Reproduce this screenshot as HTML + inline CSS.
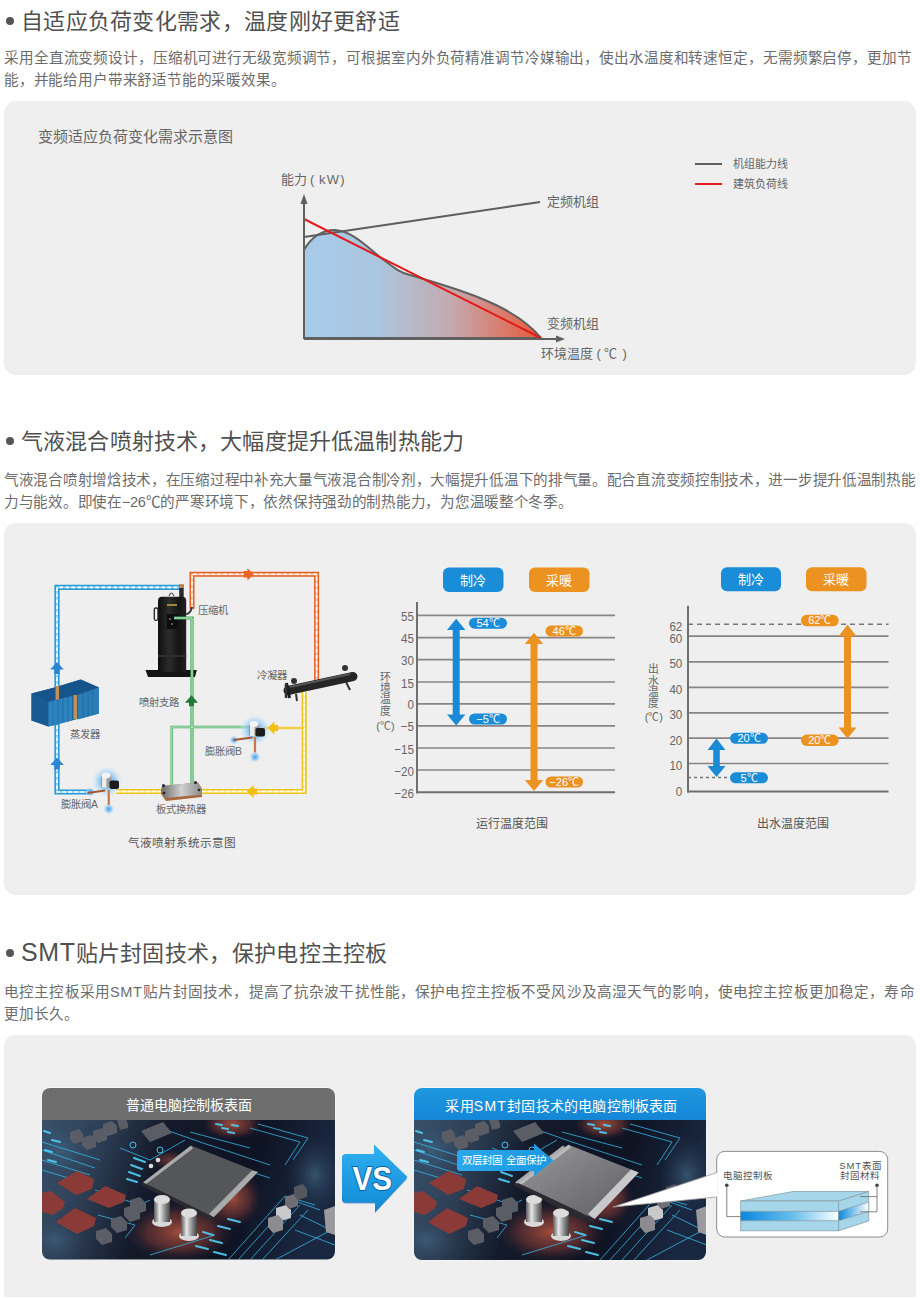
<!DOCTYPE html>
<html lang="zh-CN">
<head>
<meta charset="utf-8">
<style>
html,body{margin:0;padding:0;background:#fff;}
body{width:920px;height:1299px;position:relative;overflow:hidden;font-family:"Liberation Sans",sans-serif;color:#555;}
.abs{position:absolute;}
.h{position:absolute;left:21px;font-size:22px;line-height:30px;color:#505050;white-space:nowrap;letter-spacing:0.3px;}
.h .dot{position:absolute;left:-15.5px;top:10px;width:8px;height:8px;border-radius:50%;background:#555;}
.p{position:absolute;left:4px;width:912px;font-size:14.6px;line-height:22px;color:#6c6c6c;}
.p .l{display:block;white-space:nowrap;}
.p .l2{display:block;white-space:nowrap;}
.box{position:absolute;left:4px;width:912px;background:#efefef;border-radius:12px;}
.t{position:absolute;white-space:nowrap;color:#666;}
svg{position:absolute;left:0;top:0;}
</style>
</head>
<body>

<!-- Section 1 -->
<div class="h" style="top:7px"><span class="dot"></span>自适应负荷变化需求，温度刚好更舒适</div>
<div class="p" style="top:47px"><span class="l" style="letter-spacing:-0.12px">采用全直流变频设计，压缩机可进行无级宽频调节，可根据室内外负荷精准调节冷媒输出，使出水温度和转速恒定，无需频繁启停，更加节</span><span class="l2" style="letter-spacing:-0.18px">能，并能给用户带来舒适节能的采暖效果。</span></div>

<div class="box" style="top:101px;height:274px"></div>
<div class="t" style="left:38px;top:127px;font-size:15px;line-height:20px">变频适应负荷变化需求示意图</div>

<svg width="920" height="400" viewBox="0 0 920 400">
  <defs>
    <linearGradient id="g1" x1="304" y1="0" x2="541" y2="0" gradientUnits="userSpaceOnUse">
      <stop offset="0" stop-color="#a8cbea"/>
      <stop offset="0.3" stop-color="#aac6e0"/>
      <stop offset="0.62" stop-color="#c4aab0"/>
      <stop offset="1" stop-color="#e85a3a"/>
    </linearGradient>
  </defs>
  <path d="M304,250 C312,236 322,230 335,230 C352,231 366,246 380,257 C392,266 398,272 410,275 C430,281 455,288 480,298 C505,308 528,322 541,338 L304,338 Z" fill="url(#g1)" stroke="#606060" stroke-width="2"/>
  <line x1="304" y1="237" x2="540" y2="202" stroke="#5e5e5e" stroke-width="2"/>
  <line x1="304" y1="219" x2="541" y2="338" stroke="#e21b1b" stroke-width="2"/>
  <line x1="304" y1="339" x2="558" y2="339" stroke="#606060" stroke-width="2"/>
  <line x1="304" y1="339" x2="304" y2="200" stroke="#606060" stroke-width="2"/>
  <path d="M300.5,204 L304,194 L307.5,204 Z" fill="#606060"/>
  <path d="M556,335.5 L565,339 L556,342.5 Z" fill="#606060"/>
  <line x1="695" y1="164" x2="722" y2="164" stroke="#5e5e5e" stroke-width="2"/>
  <line x1="695" y1="184" x2="722" y2="184" stroke="#e21b1b" stroke-width="2"/>
</svg>
<div class="t" style="left:281px;top:171px;font-size:13px;line-height:18px">能力</div>
<div class="t" style="left:310px;top:171px;font-size:13px;line-height:18px">(</div>
<div class="t" style="left:319px;top:171px;font-size:13px;line-height:18px;letter-spacing:1.3px">kW)</div>
<div class="t" style="left:547px;top:193px;font-size:13px;line-height:18px">定频机组</div>
<div class="t" style="left:547px;top:315px;font-size:13px;line-height:18px">变频机组</div>
<div class="t" style="left:540.5px;top:345px;font-size:13px;line-height:18px">环境温度</div>
<div class="t" style="left:596.5px;top:345px;font-size:13px;line-height:18px">(</div>
<div class="t" style="left:604px;top:345px;font-size:13px;line-height:18px">℃</div>
<div class="t" style="left:622.5px;top:345px;font-size:13px;line-height:18px">)</div>
<div class="t" style="left:733px;top:155px;font-size:11px;line-height:18px">机组能力线</div>
<div class="t" style="left:733px;top:175px;font-size:11px;line-height:18px">建筑负荷线</div>

<!-- Section 2 -->
<div class="h" style="top:427px;letter-spacing:0.15px"><span class="dot"></span>气液混合喷射技术，大幅度提升低温制热能力</div>
<div class="p" style="top:469px"><span class="l" style="letter-spacing:-0.3px">气液混合喷射增焓技术，在压缩过程中补充大量气液混合制冷剂，大幅提升低温下的排气量。配合直流变频控制技术，进一步提升低温制热能</span><span class="l2" style="letter-spacing:-0.28px">力与能效。即使在−26℃的严寒环境下，依然保持强劲的制热能力，为您温暖整个冬季。</span></div>
<div class="box" style="top:522.5px;height:372px"></div>

<svg width="920" height="1299" viewBox="0 0 920 1299" style="position:absolute;left:0;top:0">
<defs>
  <radialGradient id="glow"><stop offset="0" stop-color="#3f9ff0" stop-opacity="1"/><stop offset="0.45" stop-color="#7fc0f2" stop-opacity="0.8"/><stop offset="0.75" stop-color="#b5dcf7" stop-opacity="0.45"/><stop offset="1" stop-color="#dceefa" stop-opacity="0"/></radialGradient>
  <linearGradient id="evap" x1="0" y1="0" x2="1" y2="1"><stop offset="0" stop-color="#3b8fc4"/><stop offset="1" stop-color="#1d5f94"/></linearGradient>
  <linearGradient id="hx" x1="0" y1="0" x2="1" y2="0"><stop offset="0" stop-color="#6a6a6a"/><stop offset="0.5" stop-color="#d0d0d0"/><stop offset="1" stop-color="#8a8a8a"/></linearGradient>
  <linearGradient id="comp" x1="0" y1="0" x2="1" y2="0"><stop offset="0" stop-color="#0e0e0e"/><stop offset="0.4" stop-color="#2c2c2c"/><stop offset="0.75" stop-color="#141414"/><stop offset="1" stop-color="#222"/></linearGradient>
</defs>
<style>
 .bt{font-size:13px;fill:#fff;text-anchor:middle;}
 .gl{stroke:#8a8585;stroke-width:1.7;}
 .ax{stroke:#726e6e;stroke-width:2;}
 .yl{font-size:13.2px;fill:#666;text-anchor:end;}
 .vt{font-size:10.8px;fill:#666;text-anchor:middle;}
 .tg{font-size:11px;fill:#fff;text-anchor:middle;}
 .cap{font-size:12px;fill:#555;}
 .lb{font-size:10.4px;fill:#666;}
</style>
<!-- chart 1 -->
<rect x="443" y="567.5" width="60.5" height="24.5" rx="6" fill="#1a8dd8"/>
<rect x="529" y="567.5" width="60.5" height="24.5" rx="6" fill="#ec9221"/>
<text x="473.2" y="584.6" class="bt">制冷</text>
<text x="559.2" y="584.6" class="bt">采暖</text>
<line x1="417" y1="615.4" x2="615" y2="615.4" class="gl"/>
<line x1="417" y1="637.7" x2="615" y2="637.7" class="gl"/>
<line x1="417" y1="659.7" x2="615" y2="659.7" class="gl"/>
<line x1="417" y1="682" x2="615" y2="682" class="gl"/>
<line x1="417" y1="703.8" x2="615" y2="703.8" class="gl"/>
<line x1="417" y1="725.8" x2="615" y2="725.8" class="gl"/>
<line x1="417" y1="748" x2="615" y2="748" class="gl"/>
<line x1="417" y1="770" x2="615" y2="770" class="gl"/>
<text transform="translate(414.0,621.0) scale(0.88,1)" class="yl">55</text>
<text transform="translate(414.0,643.3) scale(0.88,1)" class="yl">45</text>
<text transform="translate(414.0,665.3) scale(0.88,1)" class="yl">30</text>
<text transform="translate(414.0,687.6) scale(0.88,1)" class="yl">15</text>
<text transform="translate(414.0,709.4) scale(0.88,1)" class="yl">0</text>
<text transform="translate(414.0,731.4) scale(0.88,1)" class="yl">−5</text>
<text transform="translate(414.0,753.6) scale(0.88,1)" class="yl">−15</text>
<text transform="translate(414.0,775.6) scale(0.88,1)" class="yl">−20</text>
<text transform="translate(414.0,797.9) scale(0.88,1)" class="yl">−26</text>
<line x1="417" y1="602" x2="417" y2="793.3" class="ax"/>
<line x1="416" y1="792.3" x2="615" y2="792.3" class="ax"/>
<text x="385.4" y="680.8" class="vt">环</text>
<text x="385.4" y="692.3" class="vt">境</text>
<text x="385.4" y="703.3" class="vt">温</text>
<text x="385.4" y="715.1" class="vt">度</text>
<text x="385.4" y="730.3" class="vt">(℃)</text>
<path d="M456.2,618.8 L465.4,630 L459.7,630 L459.7,714.6 L465.4,714.6 L456.2,725.4 L447,714.6 L452.7,714.6 L452.7,630 L447,630 Z" fill="#1a8ad6"/>
<path d="M534,632.8 L543.2,644 L537.5,644 L537.5,780 L543.2,780 L534,791 L524.8,780 L530.5,780 L530.5,644 L524.8,644 Z" fill="#ec9221"/>
<rect x="469" y="617.7" width="38" height="11" rx="5.5" fill="#1a8dd8"/>
<text x="488" y="627" class="tg">54℃</text>
<rect x="469" y="713.5" width="38" height="11" rx="5.5" fill="#1a8dd8"/>
<text x="488" y="722.8" class="tg">−5℃</text>
<rect x="545.5" y="625.5" width="37.5" height="11" rx="5.5" fill="#ec9221"/>
<text x="564.2" y="634.8" class="tg">46℃</text>
<rect x="545.5" y="776.5" width="37.5" height="11" rx="5.5" fill="#ec9221"/>
<text x="564.2" y="785.8" class="tg">−26℃</text>
<text x="512" y="827.8" class="cap" text-anchor="middle">运行温度范围</text>

<!-- chart 2 -->
<rect x="721" y="567.3" width="60" height="24" rx="6" fill="#1a8dd8"/>
<rect x="806" y="567.3" width="60.5" height="24" rx="6" fill="#ec9221"/>
<text x="751" y="584.2" class="bt">制冷</text>
<text x="836.2" y="584.2" class="bt">采暖</text>
<line x1="688" y1="636.2" x2="888.5" y2="636.2" class="gl"/>
<line x1="688" y1="661.8" x2="888.5" y2="661.8" class="gl"/>
<line x1="688" y1="687.4" x2="888.5" y2="687.4" class="gl"/>
<line x1="688" y1="712.8" x2="888.5" y2="712.8" class="gl"/>
<line x1="688" y1="738.2" x2="888.5" y2="738.2" class="gl"/>
<line x1="688" y1="763.5" x2="888.5" y2="763.5" class="gl"/>
<line x1="688" y1="624.3" x2="888.5" y2="624.3" stroke="#7a7676" stroke-width="1.5" stroke-dasharray="5,4"/>
<line x1="688" y1="777.4" x2="731" y2="777.4" stroke="#7a7676" stroke-width="1.5" stroke-dasharray="3,3"/>
<text transform="translate(682.3,631.1) scale(0.88,1)" class="yl">62</text>
<text transform="translate(682.3,643.1) scale(0.88,1)" class="yl">60</text>
<text transform="translate(682.3,668.4) scale(0.88,1)" class="yl">50</text>
<text transform="translate(682.3,694.0) scale(0.88,1)" class="yl">40</text>
<text transform="translate(682.3,719.4) scale(0.88,1)" class="yl">30</text>
<text transform="translate(682.3,744.8) scale(0.88,1)" class="yl">20</text>
<text transform="translate(682.3,770.1) scale(0.88,1)" class="yl">10</text>
<text transform="translate(682.3,795.8) scale(0.88,1)" class="yl">0</text>
<line x1="688" y1="605.8" x2="688" y2="792.5" class="ax"/>
<line x1="687" y1="791.5" x2="888.5" y2="791.5" class="ax"/>
<text x="653.8" y="673" class="vt">出</text>
<text x="653.8" y="684.5" class="vt">水</text>
<text x="653.8" y="696.4" class="vt">温</text>
<text x="653.8" y="706.5" class="vt">度</text>
<text x="653.8" y="721.3" class="vt">(℃)</text>
<path d="M716.5,738.5 L725.5,750 L719.8,750 L719.8,766 L725.5,766 L716.5,777 L707.5,766 L713.2,766 L713.2,750 L707.5,750 Z" fill="#1a8ad6"/>
<path d="M847.5,624.7 L856.5,636.2 L851,636.2 L851,727.5 L856.5,727.5 L847.5,738.5 L838.5,727.5 L844,727.5 L844,636.2 L838.5,636.2 Z" fill="#ec9221"/>
<rect x="730" y="732.8" width="38" height="11" rx="5.5" fill="#1a8dd8"/>
<text x="749" y="742.1" class="tg">20℃</text>
<rect x="730" y="772.3" width="38" height="11" rx="5.5" fill="#1a8dd8"/>
<text x="749" y="781.6" class="tg">5℃</text>
<rect x="801" y="614.8" width="37.7" height="11.5" rx="5.7" fill="#ec9221"/>
<text x="819.8" y="624.3" class="tg">62℃</text>
<rect x="801" y="734.5" width="37.7" height="11.5" rx="5.7" fill="#ec9221"/>
<text x="819.8" y="744" class="tg">20℃</text>
<text x="792.8" y="828" class="cap" text-anchor="middle">出水温度范围</text>

<!-- diagram -->
<g fill="none" stroke-linejoin="miter">
 <path d="M183,587.4 L57,587.4 L57,792 L93,792" stroke="#2a9ad8" stroke-width="5.2"/>
 <path d="M183,587.4 L57,587.4 L57,792 L93,792" stroke="#9ad6f4" stroke-width="1.9"/>
 <path d="M183,587.4 L57,587.4 L57,792 L93,792" stroke="#fff" stroke-width="1.6" stroke-dasharray="3.5,2.5"/>
 <path d="M192,609 L192,574.3 L316.6,574.3 L316.6,681" stroke="#e85f24" stroke-width="5"/>
 <path d="M192,609 L192,574.3 L316.6,574.3 L316.6,681" stroke="#f9cfb0" stroke-width="1.8"/>
 <path d="M192,609 L192,574.3 L316.6,574.3 L316.6,681" stroke="#fff" stroke-width="1.5" stroke-dasharray="3.5,2.5"/>
 <path d="M304.2,692 L304.2,791.5 L200,791.5 M116,791.5 L162,791.5" stroke="#eec41a" stroke-width="5"/>
 <path d="M304.2,692 L304.2,791.5 L200,791.5 M116,791.5 L162,791.5" stroke="#fbeea8" stroke-width="1.8"/>
 <path d="M304.2,692 L304.2,791.5 L200,791.5 M116,791.5 L162,791.5" stroke="#fff" stroke-width="1.5" stroke-dasharray="3.5,2.5"/>

</g>
<line x1="264" y1="728" x2="304" y2="728" stroke="#f0d040" stroke-width="2.4"/>
<!-- flow arrows -->
<path d="M57,662 L63.75,669.5 L59.75,669.5 L59.75,674 L54.25,674 L54.25,669.5 L50.25,669.5 Z" fill="#2a86d2"/>
<path d="M57,757.5 L63.75,765 L59.75,765 L59.75,769.5 L54.25,769.5 L54.25,765 L50.25,765 Z" fill="#2a86d2"/>
<path d="M253.9,574.3 L247.4,580.4499999999999 L247.4,577.55 L243.6,577.55 L243.6,571.05 L247.4,571.05 L247.4,568.15 Z" fill="#e8651f"/>
<path d="M246.7,791.5 L253.6,797.9 L253.6,794.5 L257.2,794.5 L257.2,788.5 L253.6,788.5 L253.6,785.1 Z" fill="#f2bf10"/>
<path d="M267.5,728 L274.4,734.4 L274.4,731.0 L278,731.0 L278,725.0 L274.4,725.0 L274.4,721.6 Z" fill="#f2bf10"/>
<!-- evaporator -->
<path d="M31.5,693.5 L53.7,687.8 L80.7,679.6 L99,687.4 L99,713.5 L48.5,726.5 L31.5,720.4 Z" fill="#1e64a0"/>
<path d="M31.5,693.5 L53.7,687.8 L80.7,679.6 L99,687.4 L72,696 L48.5,701.7 Z" fill="#17548a"/>
<rect x="55.5" y="686" width="3.5" height="14" fill="#c49055"/>
<path d="M31.5,693.5 L48.5,701.7 L48.5,726.5 L31.5,720.4 Z" fill="#1a5a92"/>
<path d="M48.5,701.7 L72,696 L72,720.4 L48.5,726.5 Z" fill="#2d83bd"/>
<path d="M78,695 L99,687.4 L99,713.5 L78,719.6 Z" fill="#2a7db6"/>
<rect x="73.5" y="695" width="3.5" height="24" fill="#c49055"/>
<g stroke="#1b5d94" stroke-width="0.8" opacity="0.6">
<path d="M53,700.6 L53,725.5 M58,699.4 L58,724.2 M63,698.2 L63,723 M68,697 L68,721.5 M83,693.2 L83,718.2 M88,691.4 L88,716.8 M93,689.6 L93,715.2"/>
</g>
<!-- compressor -->
<rect x="179.2" y="585" width="4.5" height="12" fill="#2a2a2a"/>
<rect x="179.2" y="584" width="4.5" height="4" fill="#c08850"/>
<path d="M169,596 Q171.5,590 174,596" fill="none" stroke="#555" stroke-width="1.2"/>
<path d="M145.5,670 L196.8,670 L195,677 L148,677 Z" fill="#151515"/>
<path d="M158,601 Q158,596.8 162,596.8 L182.2,596.8 Q186.2,596.8 186.2,601 L186.2,672 L158,672 Z" fill="url(#comp)"/>
<rect x="154.3" y="608" width="3.7" height="12.3" rx="1.5" fill="none" stroke="#222" stroke-width="1.3"/>
<rect x="167" y="604" width="10" height="2" fill="#9a8a3a"/>
<rect x="166.8" y="614" width="11" height="15" fill="#0e0e0e"/>
<circle cx="170" cy="619" r="1" fill="#777"/><circle cx="172" cy="624" r="1" fill="#777"/>
<path d="M186.2,614 Q190,614 192.2,607" fill="none" stroke="#333" stroke-width="2"/>
<rect x="158" y="655" width="28.2" height="2" fill="#2e2e2e"/>
<g fill="none">
 <path d="M174,618 L192,618 L192,785" stroke="#3eaa58" stroke-width="3.2"/>
 <path d="M171.8,785 L171.8,727 L250,727" stroke="#3eaa58" stroke-width="2.6"/>
 <path d="M174,618 L192,618 L192,785 M171.8,785 L171.8,727 L250,727" stroke="#d2eed8" stroke-width="1"/>
</g>
<path d="M191.5,695.3 L198.0,702.7 L194.0,702.7 L194.0,706.3 L189.0,706.3 L189.0,702.7 L185.0,702.7 Z" fill="#217a35"/>
<!-- condenser -->
<line x1="288" y1="690.5" x2="353" y2="676.5" stroke="#262626" stroke-width="9" stroke-linecap="round"/>
<line x1="286.5" y1="683" x2="289.5" y2="698" stroke="#1a1a1a" stroke-width="3"/>
<line x1="346" y1="682" x2="350" y2="690" stroke="#333" stroke-width="2"/>
<line x1="296" y1="694" x2="297" y2="701" stroke="#333" stroke-width="2"/>
<line x1="290" y1="687" x2="350" y2="674" stroke="#555" stroke-width="2"/>
<circle cx="294" cy="681" r="3" fill="#333"/>
<circle cx="345" cy="668" r="3" fill="#333"/>
<line x1="286" y1="684" x2="286" y2="698" stroke="#333" stroke-width="2.5"/>
<!-- heat exchanger -->
<path d="M162,786 L198,782.5 L202,789 L202,797 L166,801 L161,794 Z" fill="#a8683f"/>
<path d="M162,786 L198,782.5 L202,789 L202,794.5 L166,798 L161,792 Z" fill="url(#hx)"/>
<circle cx="163.5" cy="785.5" r="1.5" fill="#222"/><circle cx="195.5" cy="782.5" r="1.5" fill="#222"/>
<circle cx="164" cy="793" r="1.3" fill="#222"/><circle cx="199" cy="790" r="1.3" fill="#222"/>
<!-- valves -->
<circle cx="107" cy="781.5" r="16" fill="url(#glow)"/>
<circle cx="108.75" cy="809" r="6" fill="url(#glow)"/>
<circle cx="90" cy="792" r="5" fill="url(#glow)"/>
<path d="M87.5,793 L105,790.5" stroke="#a9552f" stroke-width="2" fill="none"/>
<path d="M108.75,790 L108.75,805" stroke="#c4784c" stroke-width="2.2" fill="none"/>
<rect x="101" y="775.5" width="10" height="12" rx="1.5" fill="#9c9c9c"/>
<rect x="102" y="775.5" width="4.5" height="12" fill="#ececec"/>
<ellipse cx="106" cy="775.5" rx="4.5" ry="3" fill="#f4f4f4"/>
<rect x="109.5" y="780.5" width="9.5" height="8.5" rx="2" fill="#1c1c1c"/>
<circle cx="255" cy="730" r="16" fill="url(#glow)"/>
<circle cx="255" cy="757" r="6" fill="url(#glow)"/>
<circle cx="234" cy="740" r="5" fill="url(#glow)"/>
<path d="M233.5,740 L252.5,737.5" stroke="#a9552f" stroke-width="2" fill="none"/>
<path d="M255,737 L255,752.5" stroke="#c4784c" stroke-width="2.2" fill="none"/>
<rect x="249" y="724" width="10" height="12" rx="1.5" fill="#9c9c9c"/>
<rect x="250" y="724" width="4.5" height="12" fill="#ececec"/>
<ellipse cx="254" cy="724" rx="4.5" ry="3" fill="#f4f4f4"/>
<rect x="255.5" y="728" width="9.5" height="8.5" rx="2" fill="#1c1c1c"/>
<!-- labels -->
<text x="198.4" y="613.5" class="lb">压缩机</text>
<text x="257" y="678.8" class="lb">冷凝器</text>
<text x="139" y="705.5" class="lb">喷射支路</text>
<text x="70" y="737.8" class="lb">蒸发器</text>
<text x="205" y="754.6" class="lb">膨胀阀B</text>
<text x="61" y="808.2" class="lb">膨胀阀A</text>
<text x="156" y="812.8" class="lb">板式换热器</text>
<text x="128.4" y="846.6" class="cap" style="font-size:11.6px">气液喷射系统示意图</text>
</svg>


<!-- Section 3 -->
<div class="h" style="top:936.7px"><span class="dot" style="top:12.3px"></span><span style="letter-spacing:0.6px;font-size:25px">SMT</span>贴片封固技术，保护电控主控板</div>
<div class="p" style="top:980.5px"><span class="l" style="letter-spacing:0.14px">电控主控板采用<span style="letter-spacing:0.6px">SMT</span>贴片封固技术，提高了抗杂波干扰性能，保护电控主控板不受风沙及高湿天气的影响，使电控主控板更加稳定，寿命</span><span class="l2">更加长久。</span></div>
<div class="box" style="top:1035px;height:262px;border-radius:11px 11px 0 0"></div>

<svg width="920" height="1299" viewBox="0 0 920 1299" style="position:absolute;left:0;top:0">
<defs>
  <linearGradient id="pcbbg" x1="0" y1="0" x2="1" y2="0.15">
    <stop offset="0" stop-color="#3d566f"/>
    <stop offset="0.22" stop-color="#2e3f55"/>
    <stop offset="0.42" stop-color="#151c2c"/>
    <stop offset="0.75" stop-color="#0f1424"/>
    <stop offset="1" stop-color="#1a2840"/>
  </linearGradient>
  <radialGradient id="org"><stop offset="0" stop-color="#a9523e" stop-opacity="0.95"/><stop offset="0.6" stop-color="#7e3a36" stop-opacity="0.55"/><stop offset="1" stop-color="#3a2230" stop-opacity="0"/></radialGradient>
  <radialGradient id="blu"><stop offset="0" stop-color="#40627f" stop-opacity="0.75"/><stop offset="1" stop-color="#24324a" stop-opacity="0"/></radialGradient>
  <linearGradient id="chip2" x1="0" y1="0" x2="1" y2="1"><stop offset="0" stop-color="#9a9a9c"/><stop offset="0.5" stop-color="#7a7a7e"/><stop offset="1" stop-color="#5e5e62"/></linearGradient>
  <linearGradient id="chipg" x1="0" y1="0" x2="1" y2="1"><stop offset="0" stop-color="#6a6b70"/><stop offset="1" stop-color="#4a4b50"/></linearGradient>
  <linearGradient id="capg" x1="0" y1="0" x2="1" y2="0"><stop offset="0" stop-color="#5a5a5a"/><stop offset="0.35" stop-color="#e8e8e8"/><stop offset="0.7" stop-color="#8a8a8a"/><stop offset="1" stop-color="#444"/></linearGradient>
  <linearGradient id="vsg" x1="0" y1="0" x2="0" y2="1"><stop offset="0" stop-color="#2eb0f0"/><stop offset="1" stop-color="#118ad6"/></linearGradient>
  <linearGradient id="hdr2" x1="0" y1="0" x2="0" y2="1"><stop offset="0" stop-color="#1e98e0"/><stop offset="1" stop-color="#1486d6"/></linearGradient>
  <linearGradient id="bann" x1="0" y1="0" x2="1" y2="0"><stop offset="0" stop-color="#2aa8ea"/><stop offset="1" stop-color="#1c98e2"/></linearGradient>
  <linearGradient id="mid" x1="0" y1="0" x2="1" y2="0"><stop offset="0" stop-color="#0a88de"/><stop offset="0.55" stop-color="#6cc0ee"/><stop offset="1" stop-color="#ffffff"/></linearGradient>
  <linearGradient id="mids" x1="0" y1="0" x2="1" y2="0"><stop offset="0" stop-color="#0a88de"/><stop offset="1" stop-color="#ffffff"/></linearGradient>
  <clipPath id="cardclip"><rect x="42" y="1088" width="293" height="171.5" rx="8"/></clipPath>
</defs>

<!-- card 1 -->
<rect x="41.5" y="1087.5" width="294" height="172.5" rx="8.5" fill="#fafafa"/>
<g clip-path="url(#cardclip)">
  <g>
    <rect x="42" y="1120" width="293" height="140" fill="url(#pcbbg)"/>
    <ellipse cx="60" cy="1150" rx="50" ry="45" fill="url(#blu)"/>
    <ellipse cx="55" cy="1240" rx="40" ry="30" fill="url(#blu)"/>
    <ellipse cx="315" cy="1175" rx="30" ry="40" fill="url(#blu)"/>
    <ellipse cx="180" cy="1232" rx="55" ry="30" fill="url(#org)"/>
    <ellipse cx="232" cy="1198" rx="30" ry="30" fill="url(#org)"/>
    <ellipse cx="232" cy="1124" rx="30" ry="16" fill="url(#org)"/>
    <ellipse cx="170" cy="1160" rx="20" ry="10" fill="url(#org)" opacity="0.6"/>
    <g stroke="#37b6e4" stroke-width="1" fill="none" opacity="0.8">
      <path d="M42,1142 L100,1160 M42,1150 L95,1168 M42,1160 L90,1175 M42,1170 L85,1183"/>
      <path d="M120,1148 L150,1160 L185,1140 M155,1126 L200,1142 L270,1165 M190,1132 L250,1148"/>
      <path d="M228,1260 L285,1196 L315,1205 M238,1260 L292,1200 L320,1210 M250,1260 L300,1205 M262,1260 L308,1210 M275,1260 L335,1228"/>
      <path d="M250,1128 L300,1142 L285,1165 M258,1124 L308,1138 L293,1160 M245,1170 L270,1178"/>
      <path d="M95,1190 L140,1205 L150,1200 M98,1215 L135,1225 L125,1238"/>
      <path d="M150,1255 L215,1235 M300,1215 L335,1232 M295,1230 L335,1245"/>
    </g>
    <g stroke="#4fd0f5" stroke-width="2" opacity="0.9" stroke-linecap="round">
      <path d="M203,1232 L213,1235 M210,1240 L222,1243 M196,1246 L208,1249 M218,1226 L230,1229 M228,1219 L240,1222 M214,1252 L226,1255"/>
      <path d="M131,1165 L142,1169 M129,1172 L140,1176 M134,1158 L145,1162 M127,1179 L137,1182"/>
      <path d="M45,1150 L52,1152 M48,1160 L56,1162 M52,1140 L60,1142 M44,1131 L50,1133"/>
      <path d="M216,1124 L222,1125 M222,1128 L228,1129 M228,1132 L234,1133 M232,1125 L238,1126"/>
    </g>
    <circle cx="133" cy="1145" r="3" fill="none" stroke="#45c4ee" stroke-width="1"/>
    <circle cx="160" cy="1150" r="3" fill="none" stroke="#45c4ee" stroke-width="1"/>
    <g fill="#5a5d66">
      <path d="M70,1132 L79,1129 L83,1134 L83,1141 L74,1144 L70,1139 Z"/>
      <path d="M82,1138 L91,1135 L96,1140 L96,1147 L87,1150 L82,1145 Z"/>
      <path d="M93,1131 L102,1128 L107,1133 L107,1140 L98,1143 L93,1138 Z"/>
      <path d="M103,1124 L112,1121 L117,1126 L117,1133 L108,1136 L103,1131 Z"/>
      <path d="M117,1120 L126,1119 L128,1124 L128,1128 L120,1130 Z"/>
      <path d="M141,1131 L163,1122 L172,1133 L150,1142 Z"/>
      <path d="M124,1208 L134,1205 L140,1211 L140,1219 L130,1222 L124,1216 Z"/>
      <path d="M111,1219 L121,1216 L127,1222 L127,1230 L117,1233 L111,1227 Z"/>
      <path d="M96,1231 L106,1228 L112,1234 L112,1242 L102,1245 L96,1239 Z"/>
      <path d="M130,1200 L140,1197 L146,1203 L146,1211 L136,1214 L130,1208 Z"/>
    </g>
    <g fill="#a8a8ac">
      <path d="M276,1208 L286,1205 L291,1210 L291,1218 L281,1221 L276,1216 Z" fill="#c9c9cb"/>
      <path d="M268,1218 L278,1215 L283,1220 L283,1230 L273,1233 L268,1227 Z" fill="#8c8c90"/>
      <path d="M285,1197 L294,1194 L298,1199 L298,1206 L289,1209 L285,1204 Z" fill="#6e6e74"/>
      <path d="M294,1187 L303,1184 L307,1189 L307,1197 L298,1200 L294,1195 Z" fill="#55575e"/>
      <path d="M324,1210 L335,1206 L335,1235 L326,1232 Z" fill="#9a9aa0"/>
    </g>
    <g fill="#8a3b37">
      <path d="M57,1183 L77,1171 L94,1179 L92,1189 L76,1195 Z"/>
      <path d="M87,1199 L105,1186 L126,1195 L124,1202 L109,1208 Z"/>
      <path d="M56,1222 L75,1208 L96,1218 L94,1226 L77,1234 Z"/>
      <path d="M42,1193 L51,1191 L65,1202 L63,1208 L53,1215 L42,1212 Z"/>
    </g>
    <path d="M143,1182.5 L191,1145.5 L258,1172 L213.7,1217.3 Z" fill="#555659"/>
    <path d="M258,1172 L213.7,1217.3 L209,1214 L252,1170.5 Z" fill="#b9b9bb" opacity="0.85"/>
    <path d="M143,1182.5 L191,1145.5 L193,1148.5 L146,1184 Z" fill="#c0c0c0" opacity="0.8"/>
    <path d="M213.7,1217.3 L143,1182.5 L141,1185 L212,1221 Z" fill="#2a2a30"/>
    <ellipse cx="162" cy="1222" rx="10" ry="5" fill="#d9d9d9"/>
    <rect x="154" y="1199" width="16" height="23" fill="url(#capg)"/>
    <ellipse cx="162" cy="1199.5" rx="8" ry="4.5" fill="#dcdcdc"/>
    <ellipse cx="189" cy="1236" rx="10" ry="5" fill="#d9d9d9"/>
    <rect x="181" y="1212.5" width="16" height="23.5" fill="url(#capg)"/>
    <ellipse cx="189" cy="1213" rx="8" ry="4.5" fill="#dcdcdc"/>
    <circle cx="151" cy="1166" r="2.3" fill="#ddd"/><circle cx="158" cy="1160" r="2.3" fill="#ddd"/>
</g>
  <rect x="42" y="1088" width="293" height="32" fill="#6e6e6e"/>
</g>
<text x="188.5" y="1110.3" class="ht">普通电脑控制板表面</text>

<!-- VS -->
<path d="M346,1154 L374,1154 L374,1144.5 L407.5,1177 L375,1212 L375,1202.5 L346,1202.5 Q342,1202.5 342,1198.5 L342,1158 Q342,1154 346,1154 Z" fill="url(#vsg)"/>
<path d="M343,1196 L343,1199 Q343,1202 346,1202 L375,1202 L375,1211 L406,1178 L407,1179 L375,1213 L375,1203.5 L346,1203.5 Q342,1203.5 342,1199 Z" fill="#0a73bf" opacity="0.6"/>
<text x="352.5" y="1190.3" font-size="34" fill="#fff" stroke="#0b5fa8" stroke-width="2" textLength="39.5" lengthAdjust="spacingAndGlyphs" style="font-family:'Liberation Sans',sans-serif;font-weight:bold;paint-order:stroke">VS</text>

<!-- card 2 -->
<rect x="413.5" y="1087.5" width="293" height="173" rx="8.5" fill="#fafafa"/>
<g clip-path="url(#cardclip2)">
  <g transform="translate(372,0)">
    <rect x="42" y="1120" width="293" height="140" fill="url(#pcbbg)"/>
    <ellipse cx="60" cy="1150" rx="50" ry="45" fill="url(#blu)"/>
    <ellipse cx="55" cy="1240" rx="40" ry="30" fill="url(#blu)"/>
    <ellipse cx="315" cy="1175" rx="30" ry="40" fill="url(#blu)"/>
    <ellipse cx="180" cy="1232" rx="55" ry="30" fill="url(#org)"/>
    <ellipse cx="232" cy="1198" rx="30" ry="30" fill="url(#org)"/>
    <ellipse cx="232" cy="1124" rx="30" ry="16" fill="url(#org)"/>
    <ellipse cx="170" cy="1160" rx="20" ry="10" fill="url(#org)" opacity="0.6"/>
    <g stroke="#37b6e4" stroke-width="1" fill="none" opacity="0.8">
      <path d="M42,1142 L100,1160 M42,1150 L95,1168 M42,1160 L90,1175 M42,1170 L85,1183"/>
      <path d="M120,1148 L150,1160 L185,1140 M155,1126 L200,1142 L270,1165 M190,1132 L250,1148"/>
      <path d="M228,1260 L285,1196 L315,1205 M238,1260 L292,1200 L320,1210 M250,1260 L300,1205 M262,1260 L308,1210 M275,1260 L335,1228"/>
      <path d="M250,1128 L300,1142 L285,1165 M258,1124 L308,1138 L293,1160 M245,1170 L270,1178"/>
      <path d="M95,1190 L140,1205 L150,1200 M98,1215 L135,1225 L125,1238"/>
      <path d="M150,1255 L215,1235 M300,1215 L335,1232 M295,1230 L335,1245"/>
    </g>
    <g stroke="#4fd0f5" stroke-width="2" opacity="0.9" stroke-linecap="round">
      <path d="M203,1232 L213,1235 M210,1240 L222,1243 M196,1246 L208,1249 M218,1226 L230,1229 M228,1219 L240,1222 M214,1252 L226,1255"/>
      <path d="M131,1165 L142,1169 M129,1172 L140,1176 M134,1158 L145,1162 M127,1179 L137,1182"/>
      <path d="M45,1150 L52,1152 M48,1160 L56,1162 M52,1140 L60,1142 M44,1131 L50,1133"/>
      <path d="M216,1124 L222,1125 M222,1128 L228,1129 M228,1132 L234,1133 M232,1125 L238,1126"/>
    </g>
    <circle cx="133" cy="1145" r="3" fill="none" stroke="#45c4ee" stroke-width="1"/>
    <circle cx="160" cy="1150" r="3" fill="none" stroke="#45c4ee" stroke-width="1"/>
    <g fill="#5a5d66">
      <path d="M70,1132 L79,1129 L83,1134 L83,1141 L74,1144 L70,1139 Z"/>
      <path d="M82,1138 L91,1135 L96,1140 L96,1147 L87,1150 L82,1145 Z"/>
      <path d="M93,1131 L102,1128 L107,1133 L107,1140 L98,1143 L93,1138 Z"/>
      <path d="M103,1124 L112,1121 L117,1126 L117,1133 L108,1136 L103,1131 Z"/>
      <path d="M117,1120 L126,1119 L128,1124 L128,1128 L120,1130 Z"/>
      <path d="M141,1131 L163,1122 L172,1133 L150,1142 Z"/>
      <path d="M124,1208 L134,1205 L140,1211 L140,1219 L130,1222 L124,1216 Z"/>
      <path d="M111,1219 L121,1216 L127,1222 L127,1230 L117,1233 L111,1227 Z"/>
      <path d="M96,1231 L106,1228 L112,1234 L112,1242 L102,1245 L96,1239 Z"/>
      <path d="M130,1200 L140,1197 L146,1203 L146,1211 L136,1214 L130,1208 Z"/>
    </g>
    <g fill="#a8a8ac">
      <path d="M276,1208 L286,1205 L291,1210 L291,1218 L281,1221 L276,1216 Z" fill="#c9c9cb"/>
      <path d="M268,1218 L278,1215 L283,1220 L283,1230 L273,1233 L268,1227 Z" fill="#8c8c90"/>
      <path d="M285,1197 L294,1194 L298,1199 L298,1206 L289,1209 L285,1204 Z" fill="#6e6e74"/>
      <path d="M294,1187 L303,1184 L307,1189 L307,1197 L298,1200 L294,1195 Z" fill="#55575e"/>
      <path d="M324,1210 L335,1206 L335,1235 L326,1232 Z" fill="#9a9aa0"/>
    </g>
    <g fill="#8a3b37">
      <path d="M57,1183 L77,1171 L94,1179 L92,1189 L76,1195 Z"/>
      <path d="M87,1199 L105,1186 L126,1195 L124,1202 L109,1208 Z"/>
      <path d="M56,1222 L75,1208 L96,1218 L94,1226 L77,1234 Z"/>
      <path d="M42,1193 L51,1191 L65,1202 L63,1208 L53,1215 L42,1212 Z"/>
    </g>
    <path d="M143,1182.5 L191,1145.5 L258,1172 L213.7,1217.3 Z" fill="#555659"/>
    <path d="M258,1172 L213.7,1217.3 L209,1214 L252,1170.5 Z" fill="#b9b9bb" opacity="0.85"/>
    <path d="M143,1182.5 L191,1145.5 L193,1148.5 L146,1184 Z" fill="#c0c0c0" opacity="0.8"/>
    <path d="M213.7,1217.3 L143,1182.5 L141,1185 L212,1221 Z" fill="#2a2a30"/>
    <ellipse cx="162" cy="1222" rx="10" ry="5" fill="#d9d9d9"/>
    <rect x="154" y="1199" width="16" height="23" fill="url(#capg)"/>
    <ellipse cx="162" cy="1199.5" rx="8" ry="4.5" fill="#dcdcdc"/>
    <ellipse cx="189" cy="1236" rx="10" ry="5" fill="#d9d9d9"/>
    <rect x="181" y="1212.5" width="16" height="23.5" fill="url(#capg)"/>
    <ellipse cx="189" cy="1213" rx="8" ry="4.5" fill="#dcdcdc"/>
    <circle cx="151" cy="1166" r="2.3" fill="#ddd"/><circle cx="158" cy="1160" r="2.3" fill="#ddd"/>
</g>
  <path d="M518,1183 L568.5,1144.7 L638.7,1172.4 L594.6,1219 Z" fill="url(#chip2)"/>
  <path d="M638.7,1172.4 L594.6,1219 L588,1214 L631,1169.5 Z" fill="#c9c9cc"/>
  <path d="M518,1183 L568.5,1144.7 L571,1147.5 L521,1185 Z" fill="#c4c4c4" opacity="0.8"/>
  <path d="M594.6,1219 L518,1183 L516,1186 L593,1223 Z" fill="#2a2a30"/>
  <rect x="414" y="1088" width="292" height="32" fill="url(#hdr2)"/>
</g>
<clipPath id="cardclip2"><rect x="414" y="1088" width="292" height="172" rx="8"/></clipPath>
<text x="561.5" y="1111" class="ht" style="letter-spacing:0.2px">采用<tspan style="letter-spacing:1.3px">SMT</tspan>封固技术的电脑控制板表面</text>
<path d="M460,1150 L534,1150 L534,1143.5 L553.5,1160.5 L534,1176 L534,1171 L460,1171 Q457,1171 457,1168 L457,1153 Q457,1150 460,1150 Z" fill="url(#bann)"/>
<text x="461.5" y="1164.3" class="bn">双层封固</text><text x="506" y="1164.3" class="bn">全面保护</text>

<!-- callout -->
<rect x="716.7" y="1151.4" width="171" height="85.6" rx="8" fill="#fff" stroke="#8c8c8c" stroke-width="1"/>
<path d="M613,1207 L717.5,1172.6 L717.5,1197 Z" fill="#fff"/>
<path d="M717,1172.6 L613,1207 L717,1197" fill="none" stroke="#9a9a9a" stroke-width="0.8"/>
<path d="M740.7,1201 L793,1191.5 L868.7,1191.5 L838.6,1201 Z" fill="#a5d6ea" stroke="#8aa0aa" stroke-width="0.8"/>
<rect x="740.7" y="1201" width="97.9" height="29.8" fill="#a5d6ea" stroke="#8aa0aa" stroke-width="0.8"/>
<rect x="740.7" y="1211.3" width="97.9" height="9.5" fill="url(#mid)" stroke="#8aa0aa" stroke-width="0.8"/>
<path d="M838.6,1201 L868.7,1191.5 L868.7,1221 L838.6,1230.8 Z" fill="#a5d6ea" stroke="#8aa0aa" stroke-width="0.8"/>
<path d="M838.6,1211.3 L868.7,1202 L868.7,1211.5 L838.6,1220.8 Z" fill="url(#mids)" stroke="#8aa0aa" stroke-width="0.8"/>
<g stroke="#666" stroke-width="0.8" fill="none">
  <path d="M726.8,1185 L726.8,1216.6 L741,1216.6"/>
  <path d="M877,1185 L877,1211.8 L860,1211.8 M877,1196.6 L860,1196.6"/>
</g>
<circle cx="726.8" cy="1185.2" r="1.8" fill="#444"/>
<circle cx="877" cy="1185.2" r="1.8" fill="#444"/>
<text x="723" y="1179" class="cl">电脑控制板</text>
<text x="882" y="1168.8" class="cl" text-anchor="end"><tspan style="letter-spacing:0.9px">SMT</tspan>表面</text>
<text x="880" y="1178.5" class="cl" text-anchor="end">封固材料</text>
<style>
 .ht{font-size:14px;fill:#fff;text-anchor:middle;}
 .bn{font-size:10.5px;fill:#fff;}
 .cl{font-size:9.5px;fill:#555;}
</style>
</svg>


</body>
</html>
